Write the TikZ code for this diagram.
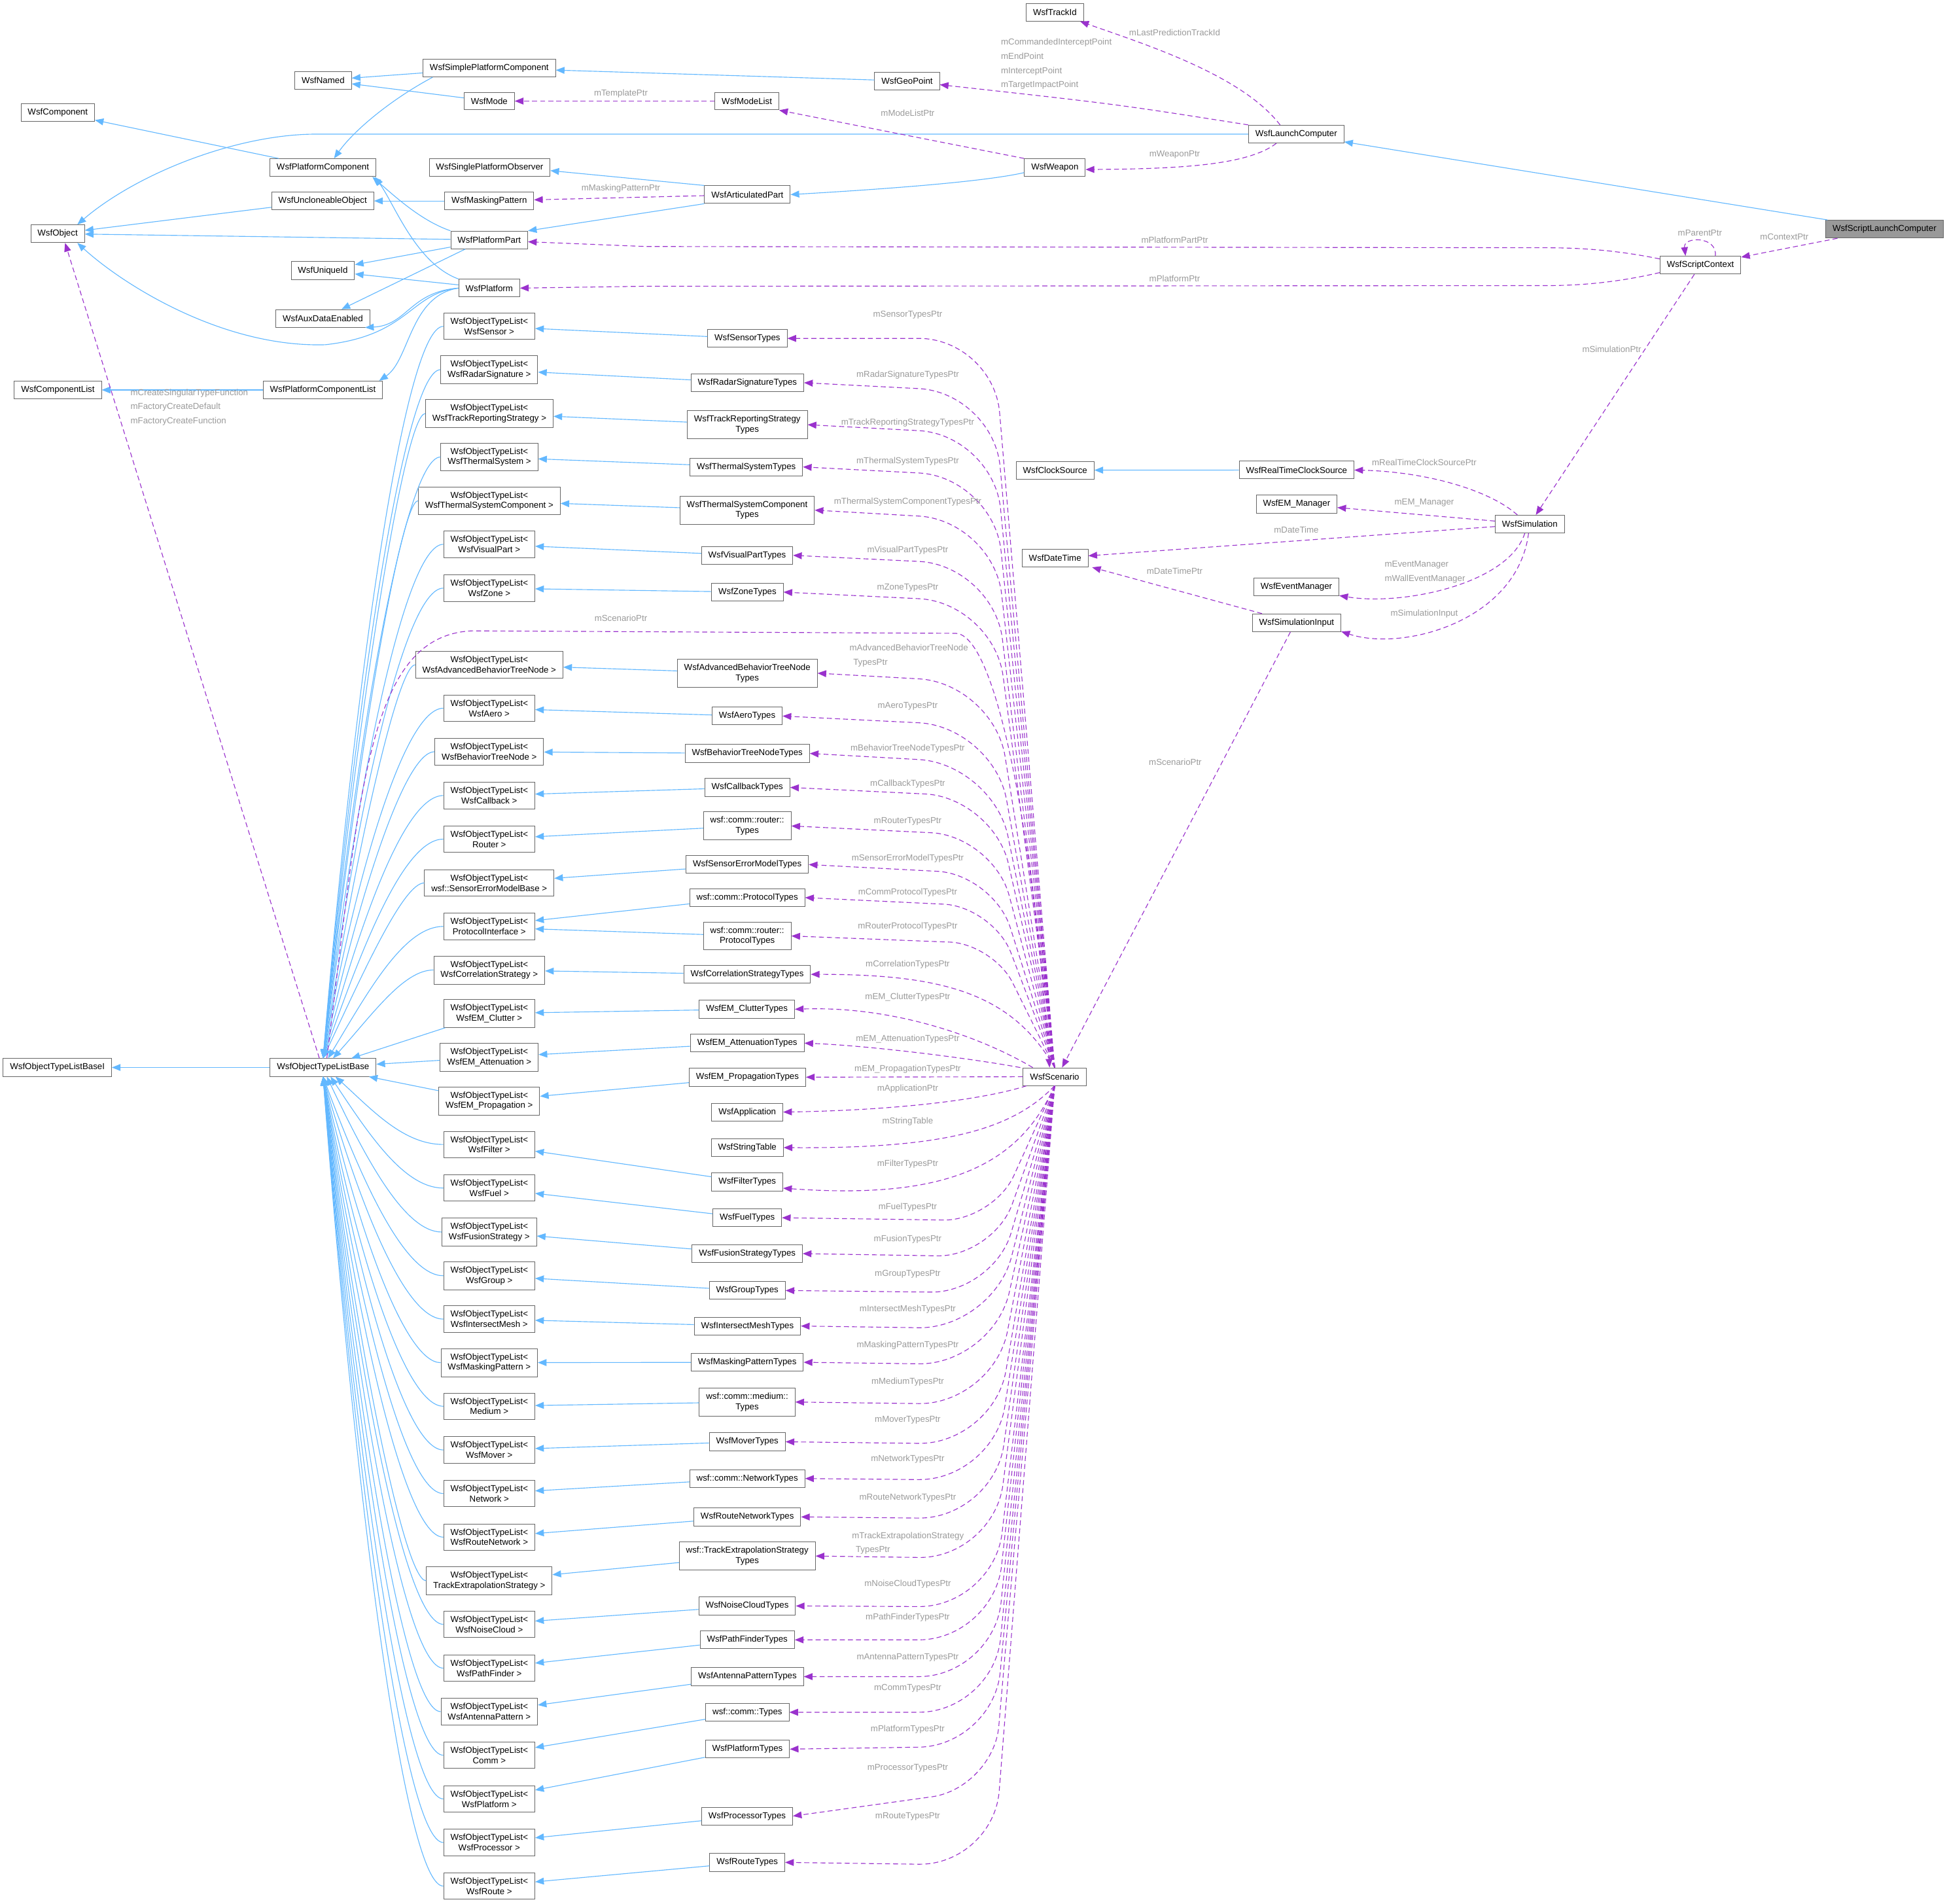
\documentclass[tikz,border=0pt]{standalone}
\usepackage{fontspec}
\setmainfont{Liberation Sans}
\usepackage{tikz}
\usetikzlibrary{arrows.meta}
\definecolor{inhblue}{RGB}{99,184,255}
\definecolor{memberpurple}{RGB}{154,50,205}
\definecolor{labelgrey}{RGB}{154,154,154}
\definecolor{boxgrey}{RGB}{102,102,102}
\definecolor{curgrey}{RGB}{153,153,153}
\begin{document}
\begin{tikzpicture}[x=1pt,y=-1pt,font=\fontsize{7}{8.3}\selectfont,
  cls/.style={draw=boxgrey,fill=white,line width=.5pt,inner xsep=5.5pt,inner ysep=3.9pt,minimum height=14.2pt,align=center},
  inh/.style={draw=inhblue,line width=.6pt,-{Triangle[length=7pt,width=5.5pt]}},
  member/.style={draw=memberpurple,line width=.6pt,dash pattern=on 4pt off 2.5pt,-{Triangle[length=7pt,width=5.5pt]}},
  lbl/.style={text=labelgrey,inner sep=0pt,font=\fontsize{7}{11.4}\selectfont,align=center}]
  \useasboundingbox (0,0) rectangle (1568,1533);
  \node[cls] (trackId) at (849.5,9.9) {WsfTrackId};
  \node[cls] (spc) at (394,54.8) {WsfSimplePlatformComponent};
  \node[cls] (named) at (260.2,64.6) {WsfNamed};
  \node[cls] (geoPoint) at (730.5,65.2) {WsfGeoPoint};
  \node[cls] (mode) at (394,81.4) {WsfMode};
  \node[cls] (modeList) at (601.5,81.4) {WsfModeList};
  \node[cls] (component) at (46.5,90.5) {WsfComponent};
  \node[cls] (launchComp) at (1043.9,108) {WsfLaunchComputer};
  \node[cls] (platComp) at (260,135) {WsfPlatformComponent};
  \node[cls] (singleObs) at (394.3,134.8) {WsfSinglePlatformObserver};
  \node[cls] (weapon) at (849.5,135) {WsfWeapon};
  \node[cls] (uncloneable) at (259.9,161.8) {WsfUncloneableObject};
  \node[cls] (maskPat) at (394,161.8) {WsfMaskingPattern};
  \node[cls] (artPart) at (601.9,156.7) {WsfArticulatedPart};
  \node[cls] (object) at (46.4,188.2) {WsfObject};
  \node[cls,fill=curgrey] (scriptLaunch) at (1517.6,184.5) {WsfScriptLaunchComputer};
  \node[cls] (platPart) at (394,193.2) {WsfPlatformPart};
  \node[cls] (scriptCtx) at (1369.4,213.5) {WsfScriptContext};
  \node[cls] (uniqueId) at (260,217.9) {WsfUniqueId};
  \node[cls] (platform) at (394,232) {WsfPlatform};
  \node[cls] (auxData) at (260,256.4) {WsfAuxDataEnabled};
  \node[cls] (compList) at (46.6,314) {WsfComponentList};
  \node[cls] (platCompList) at (260,314) {WsfPlatformComponentList};
  \node[cls] (clockSrc) at (849.7,378.6) {WsfClockSource};
  \node[cls] (rtClockSrc) at (1044.2,378.5) {WsfRealTimeClockSource};
  \node[cls] (emManager) at (1044.2,405.9) {WsfEM\_Manager};
  \node[cls] (simulation) at (1232,422) {WsfSimulation};
  \node[cls] (dateTime) at (849.7,449.5) {WsfDateTime};
  \node[cls] (eventMgr) at (1044,472.6) {WsfEventManager};
  \node[cls] (simInput) at (1044.2,501.5) {WsfSimulationInput};
  \node[cls] (baseI) at (46.2,859.6) {WsfObjectTypeListBaseI};
  \node[cls] (base) at (260.2,859.6) {WsfObjectTypeListBase};
  \node[cls] (scenario) at (849.3,867) {WsfScenario};
  \node[cls] (application) at (601.8,895.5) {WsfApplication};
  \node[cls] (stringTable) at (601.8,924.1) {WsfStringTable};

  \node[cls] (otlSensor) at (394,262.8) {WsfObjectTypeList<\\WsfSensor >};
  \node[cls] (tSensor) at (601.9,272.5) {WsfSensorTypes};
  \node[cls] (otlRadar) at (394,297.7) {WsfObjectTypeList<\\WsfRadarSignature >};
  \node[cls] (tRadar) at (601.9,308.2) {WsfRadarSignatureTypes};
  \node[cls] (otlTrackRep) at (394.1,333) {WsfObjectTypeList<\\WsfTrackReportingStrategy >};
  \node[cls] (tTrackRep) at (601.8,342) {WsfTrackReportingStrategy\\Types};
  \node[cls] (otlThermal) at (394.1,368) {WsfObjectTypeList<\\WsfThermalSystem >};
  \node[cls] (tThermal) at (601,376) {WsfThermalSystemTypes};
  \node[cls] (otlThermalComp) at (394,403.3) {WsfObjectTypeList<\\WsfThermalSystemComponent >};
  \node[cls] (tThermalComp) at (601.7,410.8) {WsfThermalSystemComponent\\Types};
  \node[cls] (otlVisual) at (394,438.3) {WsfObjectTypeList<\\WsfVisualPart >};
  \node[cls] (tVisual) at (601.7,447.2) {WsfVisualPartTypes};
  \node[cls] (otlZone) at (394,473.6) {WsfObjectTypeList<\\WsfZone >};
  \node[cls] (tZone) at (601.9,476.8) {WsfZoneTypes};
  \node[cls] (otlAdvBtn) at (394,535.3) {WsfObjectTypeList<\\WsfAdvancedBehaviorTreeNode >};
  \node[cls] (tAdvBtn) at (601.8,542.1) {WsfAdvancedBehaviorTreeNode\\Types};
  \node[cls] (otlAero) at (394,570.3) {WsfObjectTypeList<\\WsfAero >};
  \node[cls] (tAero) at (601.7,576.6) {WsfAeroTypes};
  \node[cls] (otlBtn) at (394,605.3) {WsfObjectTypeList<\\WsfBehaviorTreeNode >};
  \node[cls] (tBtn) at (601.8,606.7) {WsfBehaviorTreeNodeTypes};
  \node[cls] (otlCallback) at (394,640.6) {WsfObjectTypeList<\\WsfCallback >};
  \node[cls] (tCallback) at (601.8,634.1) {WsfCallbackTypes};
  \node[cls] (otlRouter) at (394,675.7) {WsfObjectTypeList<\\Router >};
  \node[cls] (tRouter) at (601.8,665.1) {wsf::comm::router::\\Types};
  \node[cls] (otlSensorErr) at (394,711) {WsfObjectTypeList<\\wsf::SensorErrorModelBase >};
  \node[cls] (tSensorErr) at (601.8,696.2) {WsfSensorErrorModelTypes};
  \node[cls] (otlProtoIf) at (394,746) {WsfObjectTypeList<\\ProtocolInterface >};
  \node[cls] (tCommProto) at (601.8,722.8) {wsf::comm::ProtocolTypes};
  \node[cls] (tRouterProto) at (601.8,753.7) {wsf::comm::router::\\ProtocolTypes};
  \node[cls] (otlCorrel) at (394,781.1) {WsfObjectTypeList<\\WsfCorrelationStrategy >};
  \node[cls] (tCorrel) at (601.7,784.6) {WsfCorrelationStrategyTypes};
  \node[cls] (otlClutter) at (394,816.1) {WsfObjectTypeList<\\WsfEM\_Clutter >};
  \node[cls] (tClutter) at (601.5,812.7) {WsfEM\_ClutterTypes};
  \node[cls] (otlAtten) at (394,851.4) {WsfObjectTypeList<\\WsfEM\_Attenuation >};
  \node[cls] (tAtten) at (601.8,840) {WsfEM\_AttenuationTypes};
  \node[cls] (otlProp) at (394,886.5) {WsfObjectTypeList<\\WsfEM\_Propagation >};
  \node[cls] (tProp) at (601.9,867.5) {WsfEM\_PropagationTypes};
  \node[cls] (otlFilter) at (394,921.6) {WsfObjectTypeList<\\WsfFilter >};
  \node[cls] (tFilter) at (601.8,951.8) {WsfFilterTypes};
  \node[cls] (otlFuel) at (394,956.7) {WsfObjectTypeList<\\WsfFuel >};
  \node[cls] (tFuel) at (601.8,980.6) {WsfFuelTypes};
  \node[cls] (otlFusion) at (394,992.1) {WsfObjectTypeList<\\WsfFusionStrategy >};
  \node[cls] (tFusion) at (601.8,1009.5) {WsfFusionStrategyTypes};
  \node[cls] (otlGroup) at (394,1027.3) {WsfObjectTypeList<\\WsfGroup >};
  \node[cls] (tGroup) at (601.8,1039.2) {WsfGroupTypes};
  \node[cls] (otlMesh) at (394,1062.2) {WsfObjectTypeList<\\WsfIntersectMesh >};
  \node[cls] (tMesh) at (601.9,1067.8) {WsfIntersectMeshTypes};
  \node[cls] (otlMaskPat) at (394,1097.3) {WsfObjectTypeList<\\WsfMaskingPattern >};
  \node[cls] (tMaskPat) at (601.8,1097) {WsfMaskingPatternTypes};
  \node[cls] (otlMedium) at (394,1132.4) {WsfObjectTypeList<\\Medium >};
  \node[cls] (tMedium) at (601.7,1129) {wsf::comm::medium::\\Types};
  \node[cls] (otlMover) at (394,1167.6) {WsfObjectTypeList<\\WsfMover >};
  \node[cls] (tMover) at (601.8,1161) {WsfMoverTypes};
  \node[cls] (otlNetwork) at (394,1202.7) {WsfObjectTypeList<\\Network >};
  \node[cls] (tNetwork) at (601.8,1190.6) {wsf::comm::NetworkTypes};
  \node[cls] (otlRouteNet) at (394,1237.8) {WsfObjectTypeList<\\WsfRouteNetwork >};
  \node[cls] (tRouteNet) at (601.8,1221.5) {WsfRouteNetworkTypes};
  \node[cls] (otlTrackExt) at (394,1272.9) {WsfObjectTypeList<\\TrackExtrapolationStrategy >};
  \node[cls] (tTrackExt) at (601.8,1253) {wsf::TrackExtrapolationStrategy\\Types};
  \node[cls] (otlNoise) at (394,1308) {WsfObjectTypeList<\\WsfNoiseCloud >};
  \node[cls] (tNoise) at (601.7,1293.2) {WsfNoiseCloudTypes};
  \node[cls] (otlPath) at (394,1343.3) {WsfObjectTypeList<\\WsfPathFinder >};
  \node[cls] (tPath) at (601.8,1320.5) {WsfPathFinderTypes};
  \node[cls] (otlAntenna) at (394,1378.3) {WsfObjectTypeList<\\WsfAntennaPattern >};
  \node[cls] (tAntenna) at (601.9,1350.1) {WsfAntennaPatternTypes};
  \node[cls] (tComm) at (601.9,1378.8) {wsf::comm::Types};
  \node[cls] (otlComm) at (394,1413.4) {WsfObjectTypeList<\\Comm >};
  \node[cls] (tPlatform) at (601.9,1408.5) {WsfPlatformTypes};
  \node[cls] (otlPlatform) at (394,1448.6) {WsfObjectTypeList<\\WsfPlatform >};
  \node[cls] (tProcessor) at (601.7,1462.4) {WsfProcessorTypes};
  \node[cls] (otlProcessor) at (394,1483.7) {WsfObjectTypeList<\\WsfProcessor >};
  \node[cls] (tRoute) at (601.8,1499.7) {WsfRouteTypes};
  \node[cls] (otlRoute) at (394,1518.8) {WsfObjectTypeList<\\WsfRoute >};

  \draw[inh] (scriptLaunch) -- (launchComp);
  \draw[inh] (launchComp.west) -- (255,108) .. controls (190,108) and (110,140) .. ([xshift=-6pt]object.north east);
  \draw[inh] (geoPoint) -- (spc);
  \draw[inh] (spc) -- (named);
  \draw[inh] (mode) -- (named);
  \draw[inh] ([xshift=8pt]spc.south west) .. controls (315,80) and (285,105) .. ([xshift=9pt]platComp.north);
  \draw[inh] (platComp) -- (component);
  \draw[inh] (uncloneable) -- (object);
  \draw[inh] (maskPat) -- (uncloneable);
  \draw[inh] (platPart) -- (object);
  \draw[inh] (platPart.north west) .. controls (340,178) and (320,160) .. ([xshift=-3pt]platComp.south east);
  \draw[inh] (platPart) -- (uniqueId);
  \draw[inh] ([xshift=12pt]platPart.south west) -- ([xshift=15pt]auxData.north);
  \draw[inh] (platform.north west) .. controls (335,212) and (318,165) .. ([xshift=-1pt]platComp.south east);
  \draw[inh] (platform) -- (uniqueId);
  \draw[inh] (platform.west) .. controls (330,235) and (328,262) .. ([xshift=-4pt]auxData.south east);
  \draw[inh] (platform.west) .. controls (330,236) and (330,270) .. (262,277.6) .. controls (180,280) and (100,230) .. ([xshift=-6pt]object.south east);
  \draw[inh] (platform.west) .. controls (330,238) and (330,290) .. ([xshift=-3pt]platCompList.north east);
  \draw[inh] (artPart.north west) -- ([yshift=-2.6pt]singleObs.east);
  \draw[inh] (artPart.south west) -- (platPart.north east);
  \draw[inh] ([yshift=-4pt]weapon.west) .. controls (790,147) and (700,153) .. (artPart.east);
  \draw[inh] (platCompList) -- (compList);
  \draw[inh] (rtClockSrc) -- (clockSrc);
  \draw[inh] (base) -- (baseI);

  \draw[inh] (tSensor) -- (otlSensor);
  \draw[inh] (tRadar) -- (otlRadar);
  \draw[inh] (tTrackRep) -- (otlTrackRep);
  \draw[inh] (tThermal) -- (otlThermal);
  \draw[inh] (tThermalComp) -- (otlThermalComp);
  \draw[inh] (tVisual) -- (otlVisual);
  \draw[inh] (tZone) -- (otlZone);
  \draw[inh] (tAdvBtn) -- (otlAdvBtn);
  \draw[inh] (tAero) -- (otlAero);
  \draw[inh] (tBtn) -- (otlBtn);
  \draw[inh] (tCallback) -- (otlCallback);
  \draw[inh] (tRouter) -- (otlRouter);
  \draw[inh] (tSensorErr) -- (otlSensorErr);
  \draw[inh] (tCommProto) -- ([yshift=4.7pt]otlProtoIf.east);
  \draw[inh] (tRouterProto) -- ([yshift=-2pt]otlProtoIf.east);
  \draw[inh] (tCorrel) -- (otlCorrel);
  \draw[inh] (tClutter) -- (otlClutter);
  \draw[inh] (tAtten) -- (otlAtten);
  \draw[inh] (tProp) -- (otlProp);
  \draw[inh] (tFilter) -- (otlFilter);
  \draw[inh] (tFuel) -- (otlFuel);
  \draw[inh] (tFusion) -- (otlFusion);
  \draw[inh] (tGroup) -- (otlGroup);
  \draw[inh] (tMesh) -- (otlMesh);
  \draw[inh] (tMaskPat) -- (otlMaskPat);
  \draw[inh] (tMedium) -- (otlMedium);
  \draw[inh] (tMover) -- (otlMover);
  \draw[inh] (tNetwork) -- (otlNetwork);
  \draw[inh] (tRouteNet) -- (otlRouteNet);
  \draw[inh] (tTrackExt) -- (otlTrackExt);
  \draw[inh] (tNoise) -- (otlNoise);
  \draw[inh] (tPath) -- (otlPath);
  \draw[inh] (tAntenna) -- (otlAntenna);
  \draw[inh] (tComm) -- (otlComm);
  \draw[inh] (tPlatform) -- (otlPlatform);
  \draw[inh] (tProcessor) -- (otlProcessor);
  \draw[inh] (tRoute) -- (otlRoute);

  \draw[inh] (otlSensor.west) .. controls (325,262.8) and (285,557.8) .. (base.north);
  \draw[inh] (otlRadar.west) .. controls (325,297.7) and (285,575.2) .. (base.north);
  \draw[inh] (otlTrackRep.west) .. controls (325,333) and (285,592.9) .. (base.north);
  \draw[inh] (otlThermal.west) .. controls (325,368) and (285,610.4) .. (base.north);
  \draw[inh] (otlThermalComp.west) .. controls (322,403.3) and (285,628) .. (base.north);
  \draw[inh] (otlVisual.west) .. controls (325,438.3) and (285,645.5) .. (base.north);
  \draw[inh] (otlZone.west) .. controls (325,473.6) and (285,663.2) .. (base.north);
  \draw[inh] (otlAdvBtn.west) .. controls (320,535.3) and (285,694) .. (base.north);
  \draw[inh] (otlAero.west) .. controls (325,570.3) and (285,711.5) .. (base.north);
  \draw[inh] (otlBtn.west) .. controls (325,605.3) and (287,729) .. (base.north);
  \draw[inh] (otlCallback.west) .. controls (325,640.6) and (289,746.7) .. (base.north);
  \draw[inh] (otlRouter.west) .. controls (325,675.7) and (291,764.2) .. (base.north);
  \draw[inh] (otlSensorErr.west) .. controls (325,711) and (293,781.9) .. (base.north);
  \draw[inh] (otlProtoIf.west) .. controls (325,746) and (296,799.4) .. ([xshift=4pt]base.north);
  \draw[inh] (otlCorrel.west) .. controls (325,781.1) and (300,816.9) .. ([xshift=8pt]base.north);
  \draw[inh] (otlClutter) -- (base);
  \draw[inh] (otlAtten) -- (base);
  \draw[inh] (otlProp) -- (base);
  \draw[inh] (otlFilter.west) .. controls (325,921.6) and (300,894.1) .. ([xshift=10pt]base.south);
  \draw[inh] (otlFuel.west) .. controls (325,956.7) and (296,911.7) .. ([xshift=6pt]base.south);
  \draw[inh] (otlFusion.west) .. controls (325,992.1) and (293,929.4) .. ([xshift=3pt]base.south);
  \draw[inh] (otlGroup.west) .. controls (325,1027.3) and (290,947) .. (base.south);
  \draw[inh] (otlMesh.west) .. controls (325,1062.2) and (288,964.4) .. (base.south);
  \draw[inh] (otlMaskPat.west) .. controls (325,1097.3) and (286,982) .. (base.south);
  \draw[inh] (otlMedium.west) .. controls (325,1132.4) and (285,999.5) .. (base.south);
  \draw[inh] (otlMover.west) .. controls (325,1167.6) and (285,1017.1) .. (base.south);
  \draw[inh] (otlNetwork.west) .. controls (325,1202.7) and (285,1034.7) .. (base.south);
  \draw[inh] (otlRouteNet.west) .. controls (325,1237.8) and (285,1052.2) .. (base.south);
  \draw[inh] (otlTrackExt.west) .. controls (325,1272.9) and (285,1069.8) .. (base.south);
  \draw[inh] (otlNoise.west) .. controls (325,1308) and (285,1087.3) .. (base.south);
  \draw[inh] (otlPath.west) .. controls (325,1343.3) and (285,1105) .. (base.south);
  \draw[inh] (otlAntenna.west) .. controls (325,1378.3) and (285,1122.5) .. (base.south);
  \draw[inh] (otlComm.west) .. controls (325,1413.4) and (285,1140) .. (base.south);
  \draw[inh] (otlPlatform.west) .. controls (325,1448.6) and (285,1157.6) .. (base.south);
  \draw[inh] (otlProcessor.west) .. controls (325,1483.7) and (285,1175.2) .. (base.south);
  \draw[inh] (otlRoute.west) .. controls (325,1518.8) and (285,1192.7) .. (base.south);

  \draw[member] ([xshift=-13pt]launchComp.north) .. controls (1000,60) and (920,35) .. ([xshift=-3pt]trackId.south east);
  \draw[member] (launchComp.north west) .. controls (900,84) .. ([yshift=-3pt]geoPoint.east);
  \draw[member] (weapon.north west) -- (modeList.south east);
  \draw[member] ([xshift=-16pt]launchComp.south) .. controls (1005,133) and (950,136) .. ([yshift=-1.5pt]weapon.east);
  \draw[member] (modeList) -- (mode);
  \draw[member] (artPart) -- (maskPat);
  \draw[member] ([yshift=5pt]scriptCtx.west) .. controls (1300,201) and (1270,199.5) .. (1244,199.5) -- (520,198.5) -- ([yshift=-1.5pt]platPart.east);
  \draw[member] ([yshift=-6pt]scriptCtx.west) .. controls (1300,228) and (1270,230) .. (1244,230) -- (520,230.5) -- (platform.east);
  \draw[member] ([xshift=12pt]scriptCtx.north) .. controls +(2,-16) and +(-2,-16) .. ([xshift=-12pt]scriptCtx.north);
  \draw[member] (scriptLaunch) -- (scriptCtx);
  \draw[member] (scriptCtx) -- (simulation);
  \draw[member] ([xshift=-10pt]simulation.north) .. controls (1200,395) and (1150,380) .. (rtClockSrc.east);
  \draw[member] (simulation) -- (emManager);
  \draw[member] (simulation) -- (dateTime);
  \draw[member] ([xshift=-4pt]simulation.south) .. controls (1215,470) and (1130,488) .. ([yshift=-7pt]eventMgr.east);
  \draw[member] ([xshift=-1pt]simulation.south) .. controls (1222,500) and (1130,525) .. ([yshift=-7pt]simInput.east);
  \draw[member] ([xshift=8pt]simInput.north west) -- ([xshift=3pt]dateTime.south east);
  \draw[member] ([xshift=-5pt]simInput.south) -- ([xshift=6pt]scenario.north);
  \draw[member] ([xshift=-3pt]base.north) -- ([xshift=6pt]object.south);
  \draw[member] ([xshift=3pt]base.north) .. controls (290,640) and (295,512) .. (380,508) -- (770,510) .. controls (800,512) and (830,650) .. ([xshift=-4pt]scenario.north);

  \draw[member,rounded corners=60pt] (scenario.north) -- (800,272.5) -- (tSensor.east);
  \draw[member,rounded corners=60pt] (scenario.north) -- (800,316) -- (tRadar.east);
  \draw[member,rounded corners=60pt] (scenario.north) -- (800,350) -- (tTrackRep.east);
  \draw[member,rounded corners=60pt] (scenario.north) -- (800,384) -- (tThermal.east);
  \draw[member,rounded corners=60pt] (scenario.north) -- (800,419) -- (tThermalComp.east);
  \draw[member,rounded corners=60pt] (scenario.north) -- (800,455) -- (tVisual.east);
  \draw[member,rounded corners=60pt] (scenario.north) -- (800,485) -- (tZone.east);
  \draw[member,rounded corners=60pt] (scenario.north) -- (800,550) -- (tAdvBtn.east);
  \draw[member,rounded corners=60pt] (scenario.north) -- (800,585) -- (tAero.east);
  \draw[member,rounded corners=60pt] (scenario.north) -- (800,615) -- (tBtn.east);
  \draw[member,rounded corners=55pt] (scenario.north) -- (800,642) -- (tCallback.east);
  \draw[member,rounded corners=50pt] (scenario.north) -- (800,673) -- (tRouter.east);
  \draw[member,rounded corners=45pt] (scenario.north) -- (800,704) -- (tSensorErr.east);
  \draw[member,rounded corners=40pt] (scenario.north) -- (800,730) -- (tCommProto.east);
  \draw[member,rounded corners=35pt] (scenario.north) -- (800,760) -- (tRouterProto.east);
  \draw[member] (scenario.north) .. controls (815,800) and (760,784.6) .. (tCorrel.east);
  \draw[member] ([xshift=8pt]scenario.north west) .. controls (790,835) and (720,810) .. (tClutter.east);
  \draw[member] ([xshift=-2pt]scenario.north west) .. controls (780,852) and (700,842) .. (tAtten.east);
  \draw[member] (scenario) -- (tProp);
  \draw[member] ([xshift=3pt]scenario.south west) .. controls (790,886) and (720,894) .. (application.east);
  \draw[member] (scenario.south) .. controls (815,910) and (760,925) .. (stringTable.east);
  \draw[member] (scenario.south) .. controls (820,940) and (760,966) .. ([yshift=-5pt]tFilter.east);
  \draw[member,rounded corners=40pt] (scenario.south) -- (800,983) -- (tFuel.east);
  \draw[member,rounded corners=45pt] (scenario.south) -- (800,1012) -- (tFusion.east);
  \draw[member,rounded corners=50pt] (scenario.south) -- (800,1041) -- (tGroup.east);
  \draw[member,rounded corners=60pt] (scenario.south) -- (800,1070) -- (tMesh.east);
  \draw[member,rounded corners=60pt] (scenario.south) -- (800,1099) -- (tMaskPat.east);
  \draw[member,rounded corners=60pt] (scenario.south) -- (800,1131) -- (tMedium.east);
  \draw[member,rounded corners=60pt] (scenario.south) -- (800,1163) -- (tMover.east);
  \draw[member,rounded corners=60pt] (scenario.south) -- (800,1192) -- (tNetwork.east);
  \draw[member,rounded corners=60pt] (scenario.south) -- (800,1223) -- (tRouteNet.east);
  \draw[member,rounded corners=60pt] (scenario.south) -- (800,1255) -- (tTrackExt.east);
  \draw[member,rounded corners=60pt] (scenario.south) -- (800,1294) -- (tNoise.east);
  \draw[member,rounded corners=60pt] (scenario.south) -- (800,1320.5) -- (tPath.east);
  \draw[member,rounded corners=60pt] (scenario.south) -- (800,1350.1) -- (tAntenna.east);
  \draw[member,rounded corners=60pt] (scenario.south) -- (800,1378.8) -- (tComm.east);
  \draw[member,rounded corners=60pt] (scenario.south) -- (800,1406) -- (tPlatform.east);
  \draw[member,rounded corners=50pt] (scenario.south) -- (800,1440) -- (tProcessor.east);
  \draw[member,rounded corners=60pt] (scenario.south) -- (800,1502) -- (tRoute.east);

  \node[lbl] (lTrackId) at (946,26) {mLastPredictionTrackId};
  \node[lbl,anchor=west,align=left] (lGeoPoint) at (806,51.6) {mCommandedInterceptPoint\\mEndPoint\\mInterceptPoint\\mTargetImpactPoint};
  \node[lbl] (lModeList) at (731,91) {mModeListPtr};
  \node[lbl] (lWeapon) at (946,124.6) {mWeaponPtr};
  \node[lbl] (lTemplate) at (500,75.3) {mTemplatePtr};
  \node[lbl] (lMaskPat) at (500,152) {mMaskingPatternPtr};
  \node[lbl] (lPlatPart) at (946,193.3) {mPlatformPartPtr};
  \node[lbl] (lPlatform) at (946,224.3) {mPlatformPtr};
  \node[lbl] (lParent) at (1369,187.6) {mParentPtr};
  \node[lbl] (lContext) at (1437,190.6) {mContextPtr};
  \node[lbl] (lSimulation) at (1298,281) {mSimulationPtr};
  \node[lbl] (lRtClock) at (1147,372.5) {mRealTimeClockSourcePtr};
  \node[lbl] (lEmManager) at (1147,405) {mEM\_Manager};
  \node[lbl] (lDateTime) at (1044,426.6) {mDateTime};
  \node[lbl,anchor=west,align=left] (lEventMgr) at (1115,460.5) {mEventManager\\mWallEventManager};
  \node[lbl] (lSimInput) at (1147,494) {mSimulationInput};
  \node[lbl] (lDateTimePtr) at (946,460) {mDateTimePtr};
  \node[lbl] (lScenarioSim) at (946.5,613.5) {mScenarioPtr};
  \node[lbl] (lScenarioBase) at (500,498) {mScenarioPtr};
  \node[lbl,anchor=west,align=left] (lFactory) at (105,328) {mCreateSingularTypeFunction\\mFactoryCreateDefault\\mFactoryCreateFunction};

  \node[lbl] (lSensor) at (731,253.6) {mSensorTypesPtr};
  \node[lbl] (lRadar) at (731,301.7) {mRadarSignatureTypesPtr};
  \node[lbl] (lTrackRep) at (731,340.2) {mTrackReportingStrategyTypesPtr};
  \node[lbl] (lThermal) at (731,371.7) {mThermalSystemTypesPtr};
  \node[lbl] (lThermalComp) at (731,404.3) {mThermalSystemComponentTypesPtr};
  \node[lbl] (lVisual) at (731,443.3) {mVisualPartTypesPtr};
  \node[lbl] (lZone) at (731,473.5) {mZoneTypesPtr};
  \node[lbl,anchor=west,align=left] (lAdvBtn) at (684,528) {mAdvancedBehaviorTreeNode\\\hspace*{3pt}TypesPtr};
  \node[lbl] (lAero) at (731,568.5) {mAeroTypesPtr};
  \node[lbl] (lBtn) at (731,602.7) {mBehaviorTreeNodeTypesPtr};
  \node[lbl] (lCallback) at (731,631.4) {mCallbackTypesPtr};
  \node[lbl] (lRouter) at (731,661.3) {mRouterTypesPtr};
  \node[lbl] (lSensorErr) at (731,691.4) {mSensorErrorModelTypesPtr};
  \node[lbl] (lCommProto) at (731,718.7) {mCommProtocolTypesPtr};
  \node[lbl] (lRouterProto) at (731,746) {mRouterProtocolTypesPtr};
  \node[lbl] (lCorrel) at (731,776.9) {mCorrelationTypesPtr};
  \node[lbl] (lClutter) at (731,803.2) {mEM\_ClutterTypesPtr};
  \node[lbl] (lAtten) at (731,836.5) {mEM\_AttenuationTypesPtr};
  \node[lbl] (lProp) at (731,860.7) {mEM\_PropagationTypesPtr};
  \node[lbl] (lApplication) at (731,876.8) {mApplicationPtr};
  \node[lbl] (lStringTable) at (731,903) {mStringTable};
  \node[lbl] (lFilter) at (731,937.1) {mFilterTypesPtr};
  \node[lbl] (lFuel) at (731,972.3) {mFuelTypesPtr};
  \node[lbl] (lFusion) at (731,998.1) {mFusionTypesPtr};
  \node[lbl] (lGroup) at (731,1025.7) {mGroupTypesPtr};
  \node[lbl] (lMesh) at (731,1054.5) {mIntersectMeshTypesPtr};
  \node[lbl] (lMaskPatT) at (731,1083.1) {mMaskingPatternTypesPtr};
  \node[lbl] (lMedium) at (731,1112.8) {mMediumTypesPtr};
  \node[lbl] (lMover) at (731,1143.4) {mMoverTypesPtr};
  \node[lbl] (lNetwork) at (731,1175) {mNetworkTypesPtr};
  \node[lbl] (lRouteNet) at (731,1205.9) {mRouteNetworkTypesPtr};
  \node[lbl,anchor=west,align=left] (lTrackExt) at (686,1242.7) {mTrackExtrapolationStrategy\\\hspace*{3pt}TypesPtr};
  \node[lbl] (lNoise) at (731,1275.5) {mNoiseCloudTypesPtr};
  \node[lbl] (lPath) at (731,1302.3) {mPathFinderTypesPtr};
  \node[lbl] (lAntenna) at (731,1334.5) {mAntennaPatternTypesPtr};
  \node[lbl] (lComm) at (731,1359.6) {mCommTypesPtr};
  \node[lbl] (lPlatformT) at (731,1392.8) {mPlatformTypesPtr};
  \node[lbl] (lProcessor) at (731,1423.6) {mProcessorTypesPtr};
  \node[lbl] (lRoute) at (731,1463) {mRouteTypesPtr};
\end{tikzpicture}
\end{document}
